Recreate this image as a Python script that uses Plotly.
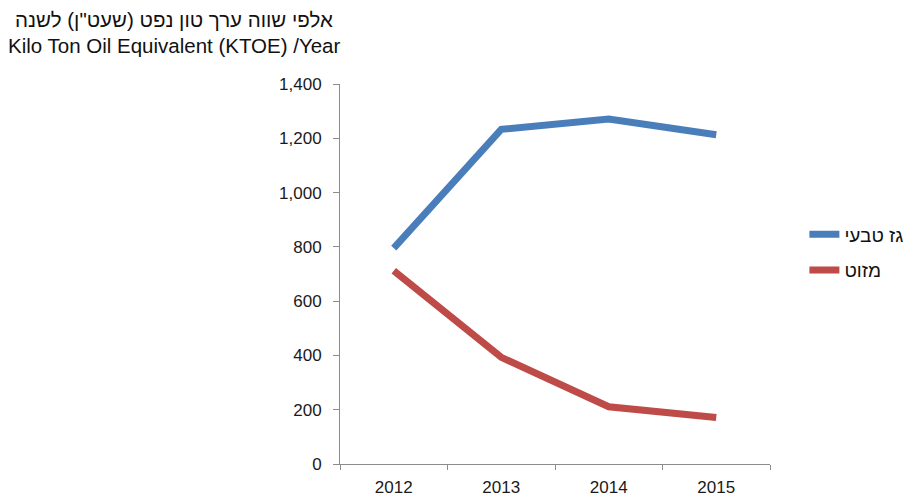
import plotly.graph_objects as go

years = ["2012", "2013", "2014", "2015"]
natural_gas = [795, 1233, 1271, 1213]   # גז טבעי
fuel_oil = [712, 393, 211, 171]         # מזוט

series_names = ["גז טבעי", "מזוט"]
series_colors = ["#4a7ebb", "#be4b48"]

title_lines = ["אלפי שווה ערך טון נפט (שעט\"ן) לשנה",
               "Kilo Ton Oil Equivalent (KTOE) /Year"]

FONT = "Liberation Sans, Arial, sans-serif"
TEXT = "#1a1a1a"

fig = go.Figure()
for i, (name, vals, color) in enumerate(zip(series_names, [natural_gas, fuel_oil], series_colors)):
    fig.add_trace(go.Scatter(
        x=years, y=vals, name=name, mode="lines",
        legendgroup=f"g{i}",
        line=dict(color=color, width=7),
    ))

# two-line axis caption above the plot, to the left
for line_text, ypos in zip(title_lines, [1.171, 1.100]):
    fig.add_annotation(
        text=line_text, xref="paper", yref="paper",
        x=-0.386, y=ypos, xanchor="center", yanchor="middle",
        showarrow=False,
        font=dict(family=FONT, size=20.5, color="#111111"),
    )

fig.update_layout(
    width=915, height=498,
    margin=dict(l=340, r=145, t=84, b=34, autoexpand=False),
    paper_bgcolor="white", plot_bgcolor="white",
    font=dict(family=FONT, size=17, color=TEXT),
    showlegend=True,
    legend=dict(
        x=1.08, xanchor="left", y=0.557, yanchor="middle",
        font=dict(family=FONT, size=19, color="#111111"),
        bgcolor="rgba(0,0,0,0)",
        tracegroupgap=8,
    ),
    xaxis=dict(
        type="category", range=[-0.5, 3.5], automargin=False,
        showline=True, linecolor="#8c8c8c", linewidth=1,
        ticks="outside", tickson="boundaries", ticklen=5, tickcolor="#8c8c8c",
        showgrid=False, zeroline=False,
        tickfont=dict(family=FONT, size=17, color=TEXT),
        ticklabelstandoff=8,
    ),
    yaxis=dict(
        range=[0, 1400], dtick=200, tickformat=",d", automargin=False,
        showline=True, linecolor="#8c8c8c", linewidth=1,
        ticks="outside", ticklen=6, tickcolor="#8c8c8c",
        showgrid=False, zeroline=False,
        tickfont=dict(family=FONT, size=17, color=TEXT),
        ticklabelstandoff=8,
    ),
)

fig.write_html("out.html")
